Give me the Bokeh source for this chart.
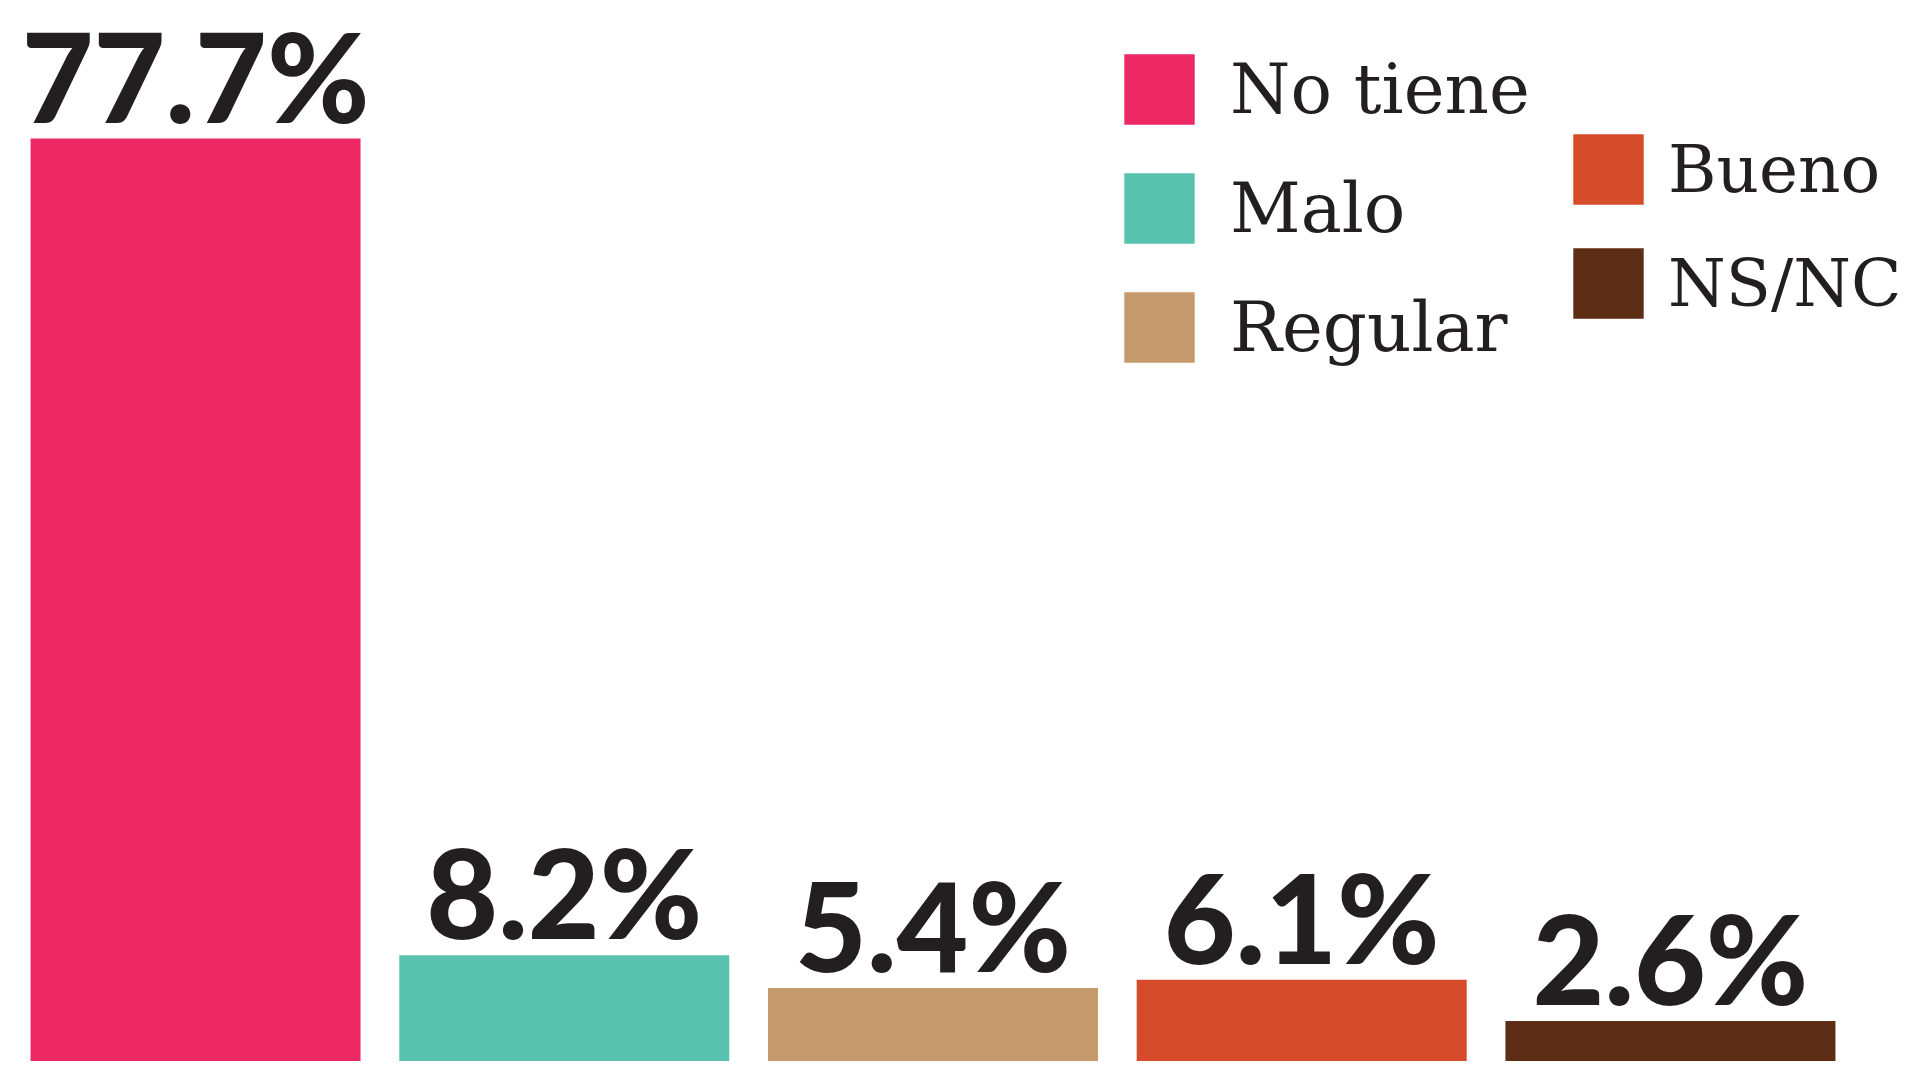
from bokeh.plotting import figure
from bokeh.models import ColumnDataSource, Legend, LegendItem, Range1d
from bokeh.core.properties import value
from bokeh.embed import file_html
from bokeh.resources import INLINE

categories = ["No tiene", "Malo", "Regular", "Bueno", "NS/NC"]
percent = [77.7, 8.2, 5.4, 6.1, 2.6]
labels = ["77.7%", "8.2%", "5.4%", "6.1%", "2.6%"]
colors = ["#EE2864", "#58C2AE", "#C4996C", "#D64C2B", "#5E2D16"]

src = ColumnDataSource(dict(
    x=list(range(len(categories))),
    top=percent,
    label=labels,
    color=colors,
    cat=categories,
))

p = figure(width=1900, height=1061, output_backend="svg", toolbar_location=None,
           x_range=Range1d(-0.529, 4.624), y_range=Range1d(-0.85, 89.45),
           min_border=0)
p.axis.visible = False
p.grid.visible = False
p.outline_line_color = None
p.background_fill_color = "white"
p.border_fill_color = "white"

bars = p.vbar(x="x", top="top", bottom=-5, width=0.895, source=src,
              fill_color="color", line_color=None)

p.text(x="x", y="top", text="label", source=src, text_align="center",
       text_baseline="alphabetic", y_offset=-64,
       text_font=value("Lato Black"), text_font_size="124px",
       text_color="#231F20")

def make_legend(idx, loc, spacing, standoff, size):
    items = [LegendItem(label=categories[i], renderers=[bars], index=i) for i in idx]
    lg = Legend(items=items, location=loc, orientation="vertical",
                glyph_width=88, glyph_height=88, label_standoff=standoff,
                label_text_font="DejaVu Serif", label_text_font_size=size,
                label_text_color="#231F20", label_height=88,
                spacing=spacing, padding=0, margin=0,
                border_line_color=None, background_fill_alpha=0)
    return lg

p.add_layout(make_legend([0, 1, 2], (1115, 690), 31, 27, "69px"))
p.add_layout(make_legend([3, 4], (1564, 734), 26, 16, "66px"))

open("out.html", "w").write(file_html(p, INLINE))
